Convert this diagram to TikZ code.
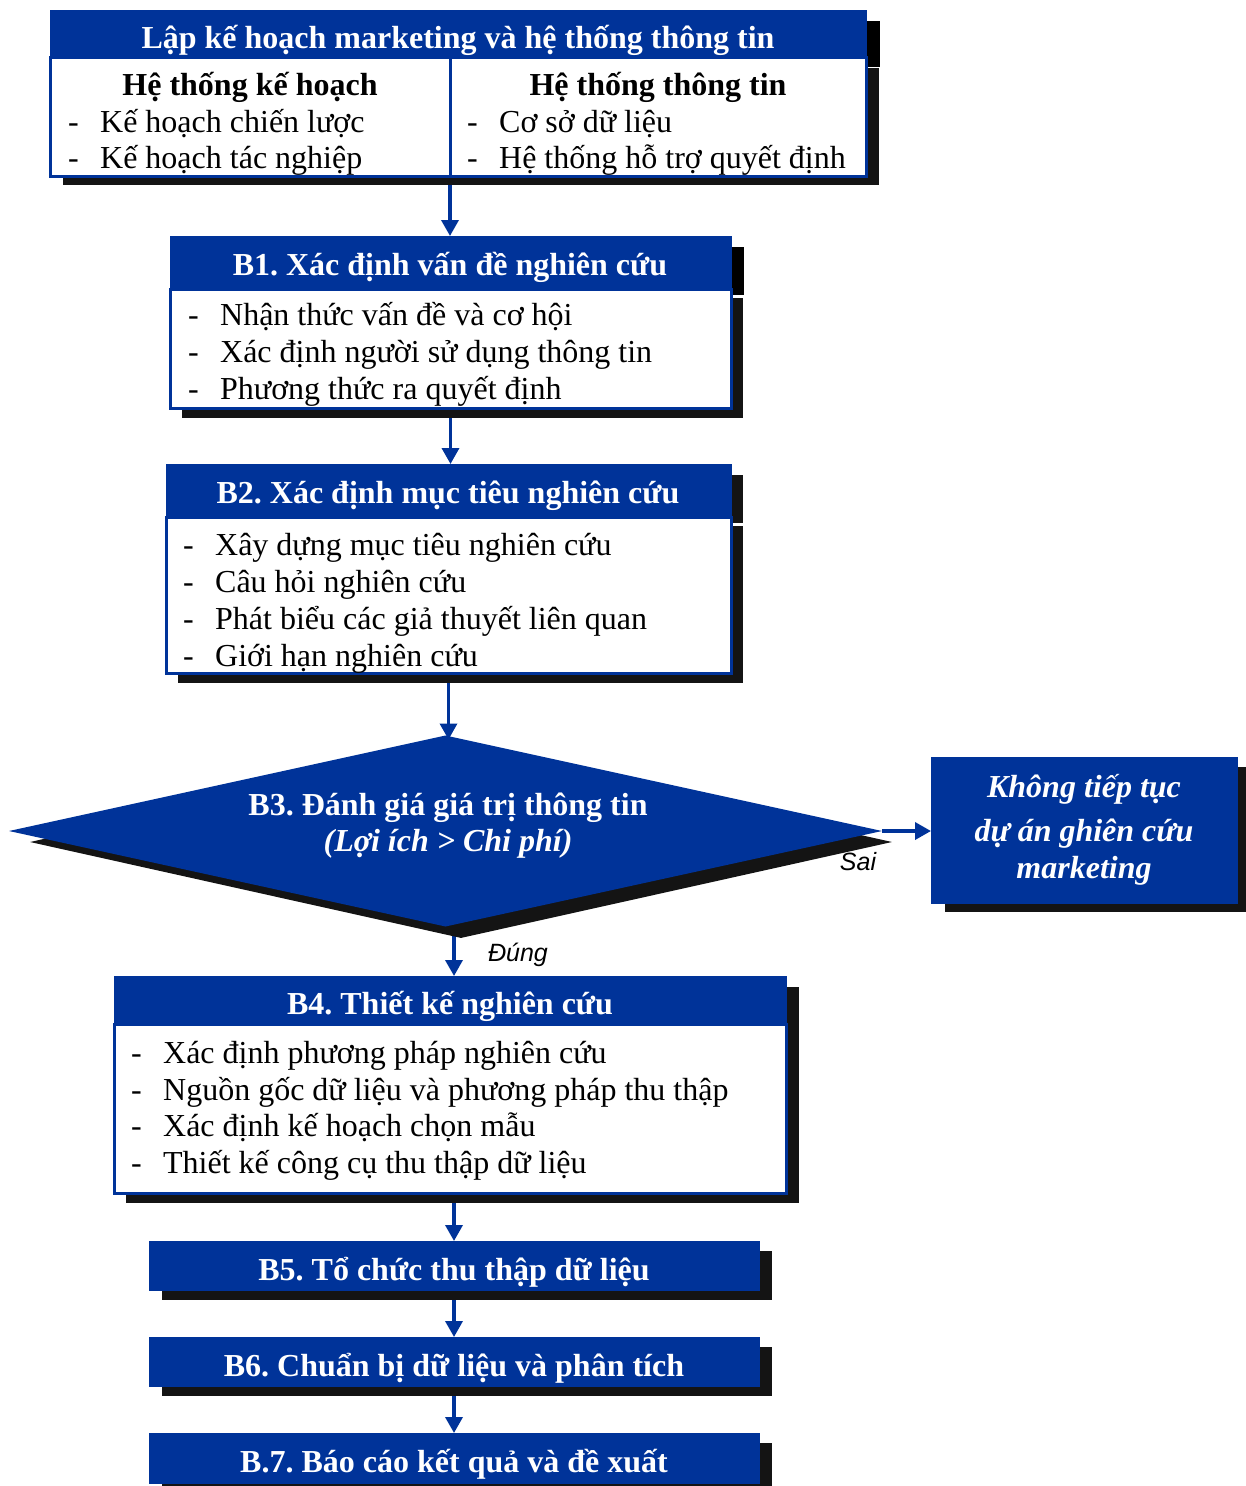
\documentclass[tikz,border=0pt]{standalone}
\usepackage{fontspec}
\setmainfont{Liberation Serif}
\newfontfamily\labelfont{Liberation Sans}
\usetikzlibrary{arrows.meta,shapes.geometric,calc,backgrounds}
\definecolor{navy}{HTML}{003399}
\definecolor{shadehd}{HTML}{000000}
\definecolor{shadebd}{HTML}{141414}
\newcommand\bulletline[1]{\makebox[32pt][l]{-}#1}
\frenchspacing

\begin{document}
\begin{tikzpicture}[x=1pt,y=-1pt,
  hdr/.style={fill=navy, draw=navy, line width=1pt, inner sep=0pt, outer sep=0pt, anchor=north west},
  bodybox/.style={fill=white, draw=navy, line width=3pt, inner sep=0pt, outer sep=0pt, anchor=north west},
  solid box/.style={fill=navy, draw=navy, line width=1pt, inner sep=0pt, outer sep=0pt, anchor=north west},
  htxt/.style={text=white, font=\fontsize{32}{37}\selectfont\bfseries, inner sep=0pt, anchor=base},
  itxt/.style={text=white, font=\fontsize{32}{37}\selectfont\bfseries\itshape, inner sep=0pt, anchor=base},
  subhd/.style={font=\fontsize{32}{37}\selectfont\bfseries, inner sep=0pt, anchor=base},
  itm/.style={font=\fontsize{32}{37}\selectfont, inner sep=0pt, anchor=base west},
  tag/.style={font=\labelfont\itshape\fontsize{25}{30}\selectfont, inner sep=0pt},
  arr/.style={draw=navy, line width=3.5pt, -{Triangle[width=17pt,length=16pt]}},
  shd/.style={fill=shadehd},
  shdb/.style={fill=shadebd}
]
\useasboundingbox (0,0) rectangle (1246,1486);

% ---------- planning and information systems ----------
\node[hdr, minimum width=816pt, minimum height=47pt] (toph) at (50,10) {};
\node[bodybox, minimum width=816pt, minimum height=119pt] (top) at (50,57) {};
\coordinate (div) at (450,57);
\draw[navy, line width=3pt] (div) -- (div |- top.south);
\node[htxt] (toptitle) at (458,48) {Lập kế hoạch marketing và hệ thống thông tin};
\node[subhd] (plan) at (250,95) {Hệ thống kế hoạch};
\node[itm] (plan1) at (68,132) {\bulletline{Kế hoạch chiến lược}};
\node[itm] (plan2) at (68,168) {\bulletline{Kế hoạch tác nghiệp}};
\node[subhd] (info) at (658,95) {Hệ thống thông tin};
\node[itm] (info1) at (467,132) {\bulletline{Cơ sở dữ liệu}};
\node[itm] (info2) at (467,168) {\bulletline{Hệ thống hỗ trợ quyết định}};

% ---------- B1 ----------
\node[hdr, minimum width=561pt, minimum height=53pt] (b1h) at (170,236) {};
\node[bodybox, minimum width=561pt, minimum height=119pt] (b1) at (170,289) {};
\node[htxt] (b1t) at (450,275) {B1. Xác định vấn đề nghiên cứu};
\node[itm] (b1a) at (188,325) {\bulletline{Nhận thức vấn đề và cơ hội}};
\node[itm] (b1b) at (188,362) {\bulletline{Xác định người sử dụng thông tin}};
\node[itm] (b1c) at (188,399) {\bulletline{Phương thức ra quyết định}};

% ---------- B2 ----------
\node[hdr, minimum width=565pt, minimum height=53pt] (b2h) at (166,464) {};
\node[bodybox, minimum width=565pt, minimum height=156pt] (b2) at (166,517) {};
\node[htxt] (b2t) at (448,503) {B2. Xác định mục tiêu nghiên cứu};
\node[itm] (b2a) at (183,555) {\bulletline{Xây dựng mục tiêu nghiên cứu}};
\node[itm] (b2b) at (183,592) {\bulletline{Câu hỏi nghiên cứu}};
\node[itm] (b2c) at (183,629) {\bulletline{Phát biểu các giả thuyết liên quan}};
\node[itm] (b2d) at (183,666) {\bulletline{Giới hạn nghiên cứu}};

% ---------- B3 decision ----------
\node[diamond, fill=shadebd, minimum width=862pt, minimum height=192pt, inner sep=0pt] (b3s) at (461,842) {};
\node[diamond, fill=navy, minimum width=873pt, minimum height=191pt, inner sep=0pt, outer sep=0pt] (b3) at (445.5,831) {};
\node[htxt] (b3t) at (448,815) {B3. Đánh giá giá trị thông tin};
\node[itxt] (b3u) at (448,851) {(Lợi ích > Chi phí)};

% ---------- stop box ----------
\node[solid box, minimum width=306pt, minimum height=146pt] (stop) at (931,757) {};
\node[itxt] (stop1) at (1084,797) {Không tiếp tục};
\node[itxt] (stop2) at (1084,841) {dự án ghiên cứu};
\node[itxt] (stop3) at (1084,878) {marketing};

% ---------- B4 ----------
\node[hdr, minimum width=672pt, minimum height=48pt] (b4h) at (114,976) {};
\node[bodybox, minimum width=672pt, minimum height=169pt] (b4) at (114,1024) {};
\node[htxt] (b4t) at (450,1014) {B4. Thiết kế nghiên cứu};
\node[itm] (b4a) at (131,1063) {\bulletline{Xác định phương pháp nghiên cứu}};
\node[itm] (b4b) at (131,1100) {\bulletline{Nguồn gốc dữ liệu và phương pháp thu thập}};
\node[itm] (b4c) at (131,1136) {\bulletline{Xác định kế hoạch chọn mẫu}};
\node[itm] (b4d) at (131,1173) {\bulletline{Thiết kế công cụ thu thập dữ liệu}};

% ---------- B5 - B7 ----------
\node[solid box, minimum width=610pt, minimum height=49pt] (b5) at (149,1241) {};
\node[htxt] (b5t) at (454,1280) {B5. Tổ chức thu thập dữ liệu};
\node[solid box, minimum width=610pt, minimum height=49pt] (b6) at (149,1337) {};
\node[htxt] (b6t) at (454,1376) {B6. Chuẩn bị dữ liệu và phân tích};
\node[solid box, minimum width=610pt, minimum height=50pt] (b7) at (149,1433) {};
\node[htxt] (b7t) at (454,1472) {B.7. Báo cáo kết quả và đề xuất};

\coordinate (mainx) at (454,928);

\begin{pgfonlayer}{background}
  % connectors run beneath the drop shadows
  \draw[arr] (div |- top.south) -- (div |- b1h.north);
  \draw[arr] (b1.south) -- (b1.south |- b2h.north);
  \draw[arr] (b2.south) -- ([yshift=-4pt]b2.south |- b3.north);
  \draw[arr] (b3.east) -- (b3.east -| stop.west);
  \draw[arr] (mainx) -- (mainx |- b4h.north);
  \draw[arr] (mainx |- b4.south) -- (mainx |- b5.north);
  \draw[arr] (mainx |- b5.south) -- (mainx |- b6.north);
  \draw[arr] (mainx |- b6.south) -- (mainx |- b7.north);
  % drop shadows
  \fill[shd] ([shift={(13,11)}]toph.north west) rectangle ([shift={(14,10)}]toph.south east);
  \fill[shdb] ([shift={(13,11)}]top.north west) rectangle ([shift={(13,9)}]top.south east);
  \fill[shd] ([shift={(12,11)}]b1h.north west) rectangle ([shift={(13,6)}]b1h.south east);
  \fill[shdb] ([shift={(12,9)}]b1.north west) rectangle ([shift={(12,10)}]b1.south east);
  \fill[shdb] ([shift={(12,11)}]b2h.north west) rectangle ([shift={(12,6)}]b2h.south east);
  \fill[shdb] ([shift={(12,9)}]b2.north west) rectangle ([shift={(12,10)}]b2.south east);
  \fill[shdb] ([shift={(12,11)}]b4h.north west) rectangle ([shift={(13,6)}]b4h.south east);
  \fill[shdb] ([shift={(12,6)}]b4.north west) rectangle ([shift={(13,10)}]b4.south east);
  \fill[shdb] ([shift={(14,10)}]stop.north west) rectangle ([shift={(14,9)}]stop.south east);
  \fill[shdb] ([shift={(13,10)}]b5.north west) rectangle ([shift={(13,10)}]b5.south east);
  \fill[shdb] ([shift={(13,10)}]b6.north west) rectangle ([shift={(13,10)}]b6.south east);
  \fill[shdb] ([shift={(13,10)}]b7.north west) rectangle ([shift={(13,10)}]b7.south east);
\end{pgfonlayer}

\node[tag] (sai) at (858,862) {Sai};
\node[tag] (dung) at (518,955) {Đúng};
\end{tikzpicture}
\end{document}
